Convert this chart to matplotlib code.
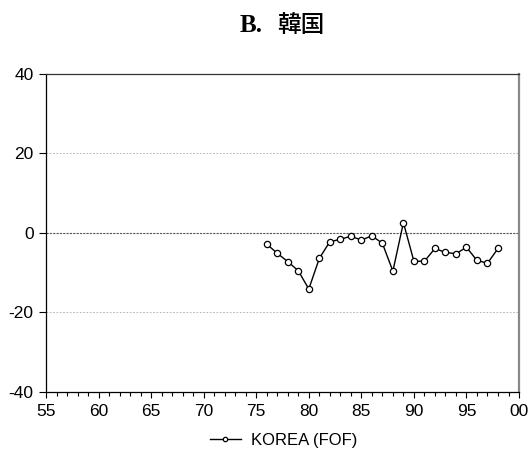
import matplotlib
matplotlib.use("Agg")
import matplotlib.pyplot as plt
from matplotlib.ticker import MultipleLocator

plt.rcParams["font.family"] = ["Liberation Sans", "DejaVu Sans"]

years = list(range(1976, 1999))
korea_fof = [-2.8, -5.1, -7.2, -9.5, -14.1, -6.4, -2.2, -1.6, -0.8, -1.8,
             -0.7, -2.6, -9.6, 2.6, -7.1, -7.1, -3.9, -4.9, -5.2, -3.6,
             -6.9, -7.6, -3.9]

x_ticks = [1955, 1960, 1965, 1970, 1975, 1980, 1985, 1990, 1995, 2000]
x_tick_labels = ["55", "60", "65", "70", "75", "80", "85", "90", "95", "00"]
y_ticks = [-40, -20, 0, 20, 40]

fig = plt.figure(figsize=(5.3, 4.61), dpi=100)
ax = fig.add_axes([0.0868, 0.1497, 0.8925, 0.6898])

ax.plot(years, korea_fof, color="black", linewidth=1.0, marker="o",
        markersize=4.5, markerfacecolor="white", markeredgecolor="black",
        markeredgewidth=0.9, label="KOREA (FOF)")

for yv in (-20, 20):
    ax.axhline(yv, color="#aaaaaa", linewidth=0.6, linestyle=(0, (2, 2)), zorder=0)
ax.axhline(0, color="#555555", linewidth=0.8, linestyle=(0, (2, 1)), zorder=0)

ax.set_xlim(1955, 2000)
ax.set_ylim(-40, 40)
ax.set_xticks(x_ticks)
ax.set_xticklabels(x_tick_labels)
ax.xaxis.set_minor_locator(MultipleLocator(1))
ax.set_yticks(y_ticks)
ax.set_yticklabels([str(v) for v in y_ticks])

ax.tick_params(axis="x", which="major", direction="out", length=4, width=0.8,
               labelsize=12.5, pad=5)
ax.tick_params(axis="x", which="minor", direction="out", length=3, width=0.8)
ax.tick_params(axis="y", direction="out", length=5, width=0.8, labelsize=12.5, pad=4)
for lbl in ax.get_yticklabels():
    lbl.set_verticalalignment("center_baseline")

ax.spines["left"].set_color("black")
ax.spines["bottom"].set_color("black")
ax.spines["top"].set_color("#333333")
ax.spines["right"].set_color("#888888")
ax.spines["right"].set_linewidth(1.6)
for side in ("left", "bottom", "top"):
    ax.spines[side].set_linewidth(0.9)

# title: serif "B." followed by the country name
fig.text(263 / 530, 1 - 26 / 461, "B.", ha="right", va="center", fontsize=18,
         fontweight="bold", family="Liberation Serif")
fig.text(277 / 530, 1 - 26 / 461, "韓国", ha="left", va="center", fontsize=17,
         fontweight="medium", family="Noto Sans CJK JP")

fig.legend(loc="center", bbox_to_anchor=(0.535, 0.045), frameon=False,
           fontsize=12, handlelength=1.9, handletextpad=0.6, markerscale=0.7)

fig.savefig("out.png", dpi=100)
